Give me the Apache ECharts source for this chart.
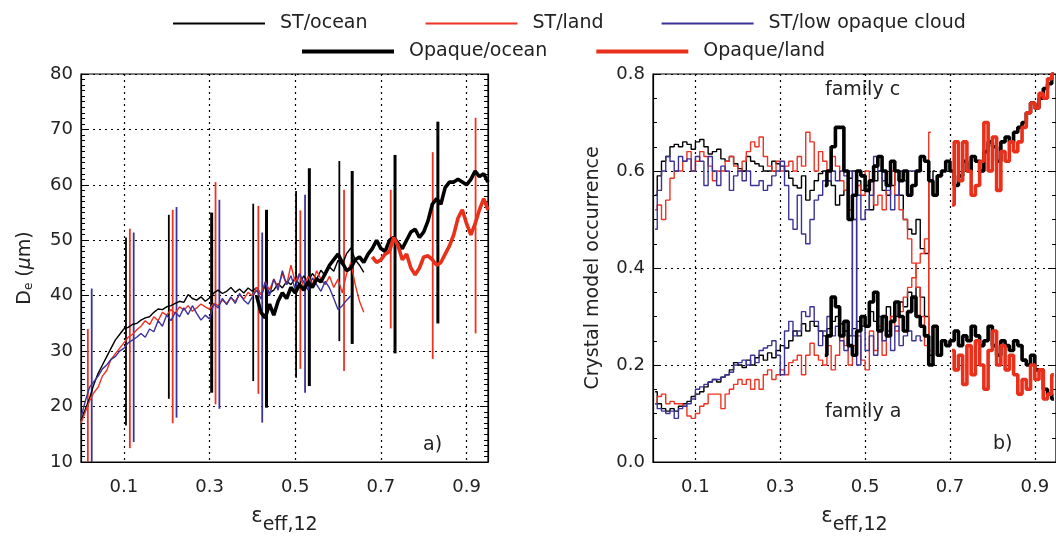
<!DOCTYPE html>
<html>
<head>
<meta charset="utf-8">
<script src="https://cdn.jsdelivr.net/npm/echarts@6/dist/echarts.min.js"></script>
<style>html,body{margin:0;padding:0;background:#fff}#c{width:1056px;height:540px}</style>
</head>
<body>
<div id="c"></div>
<script>
// ---------- tick labels ----------
const xTickValues = [0.1, 0.3, 0.5, 0.7, 0.9];
const seriesNames = ['ST/ocean', 'ST/land', 'ST/low opaque cloud', 'Opaque/ocean', 'Opaque/land'];

// ---------- panel a: De (um) vs emissivity, samples every 0.01 ----------
const aStOceanStart = 0.00;
const aStOcean = [17.5,19.5,21.5,24,26,27.5,29,30.5,32,33,34,34.3,34.8,35,35.6,36,36.2,37,37.6,37.5,38,38.2,38.6,39,38.8,40.2,39.5,39.2,39.8,39,39.6,40.5,41,40.4,40.8,41.5,40.6,41.2,40.5,41.4,40.8,41.5,40.2,41.8,40.5,41,42.2,41.4,42.6,42,43.2,42,43.6,42.4,44,43,44.6,43.6,45.2,44.4,46.4,45.6,47.6,48.6,46.5,45.5,44.2];
const aStLandStart = 0.00;
const aStLand = [17,19,21,22.5,23.5,25.5,26.5,28.5,29.5,30.5,31.5,32.5,33,33.8,34.5,35.5,34.8,36.2,35.5,37,36.5,37.5,36.8,38,37.4,38.2,37.2,37.8,38.5,38,37.6,38.6,38.2,39.2,38.6,39.6,39,40.2,39.4,40.6,40,41.5,40.2,42.5,41,43,41.5,44,42,45.5,42.5,44,41.5,43.5,42,44.5,43,42,43.5,41.5,43,40.5,44,46,42,39,37];
const aStLowStart = 0.00;
const aStLow = [18,21,23.5,24.5,25.5,26.8,27.5,28.5,29,30,30.5,31.5,32,32.5,33.2,32.5,34,33.5,35.5,34.5,36.5,35.5,37,36.2,37.8,36.6,38.2,36.8,35.6,36.5,35.8,38.5,37.8,39.5,38.4,39.8,38.6,40.4,39.2,38.5,39.8,41,39.4,42.5,40,43,41,44.5,42,43.6,41.2,44,42.4,41,43.2,42,40.8,42.6,41.4,39.5,37.5,38.2,39.2,40];
const aOpOceanStart = 0.41;
const aOpOcean = [40,37,36,38.5,36.5,39,40.5,39.5,41.5,40.5,42,41,42.5,41.5,43,42.5,44,45.5,46.5,47.5,46,44.5,45,46.5,47,46,47.5,48.5,50,48.5,48,50,50.5,49.5,48.5,50,51.5,52,50.5,51.5,53.5,56.5,57.5,56.5,59.5,60.5,60.5,61,60.5,60,61,62.5,61.5,62,60.5];
const aOpLandStart = 0.68;
const aOpLand = [47,46,46.5,47.5,48,50.5,49,46.5,47.5,45,43.8,45,47,47.2,46.5,45.5,46,47.5,49,51,54,55.5,53,51,53,55.5,57.5,55.5];

// error bars (x, low, high)
const errStOceanX  = [0.105,0.205,0.402,0.502,0.603];
const errStOceanLo = [16.6,21.4,24.6,25.2,31.8];
const errStOceanHi = [50.5,54.6,56.6,58.9,64.3];
const errStLandX   = [0.016,0.114,0.214,0.314,0.414,0.512,0.614,0.723,0.821,0.921];
const errStLandLo  = [10,12.5,17,20.4,22.3,26.8,26.4,34.1,28.6,33.2];
const errStLandHi  = [34,52.1,55.5,60.5,56.2,55.4,59.1,59.1,65.9,72.1];
const errStLowX    = [0.025,0.123,0.223,0.323,0.423,0.523];
const errStLowLo   = [10,13.6,18,19.6,17.1,22.5];
const errStLowHi   = [41.3,51.4,56,57.3,51.4,58.2];
const errOpOceanX  = [0.305,0.433,0.533,0.633,0.733,0.833];
const errOpOceanLo = [22.5,19.8,23.7,31.3,29.6,35];
const errOpOceanHi = [55,55.5,63,62.5,65.4,71.4];

// ---------- panel b: crystal model occurrence, bins of 0.01 (first bin index) ----------
const bStOceanBin0 = 0;
const bStOceanC = [0.55,0.59,0.62,0.63,0.65,0.655,0.65,0.66,0.655,0.645,0.66,0.665,0.65,0.635,0.64,0.645,0.625,0.62,0.63,0.615,0.605,0.6,0.63,0.62,0.615,0.61,0.6,0.6,0.62,0.615,0.61,0.6,0.585,0.57,0.565,0.59,0.54,0.56,0.58,0.595,0.6,0.58,0.57,0.53,0.55,0.56,0.585,0.6,0.58,0.56,0.57,0.52,0.58,0.6,0.56,0.55,0.57,0.6,0.55,0.5,0.48,0.47,0.5,0.44,0.43,0.58,0.6];
const bStOceanA = [0.145,0.12,0.11,0.105,0.11,0.105,0.115,0.12,0.125,0.135,0.14,0.145,0.155,0.165,0.17,0.165,0.175,0.18,0.19,0.205,0.2,0.195,0.21,0.2,0.215,0.22,0.21,0.225,0.215,0.23,0.24,0.235,0.25,0.27,0.26,0.285,0.27,0.29,0.28,0.27,0.26,0.275,0.29,0.3,0.285,0.27,0.26,0.275,0.29,0.3,0.28,0.31,0.29,0.27,0.3,0.32,0.29,0.3,0.33,0.32,0.35,0.34,0.36,0.34,0.3,0.22,0.2];
const bStLandBin0 = 0;
const bStLandC = [0.52,0.53,0.5,0.54,0.585,0.6,0.6,0.62,0.64,0.6,0.62,0.64,0.63,0.61,0.58,0.6,0.6,0.62,0.63,0.61,0.6,0.62,0.64,0.66,0.65,0.67,0.63,0.61,0.6,0.62,0.6,0.61,0.62,0.6,0.63,0.61,0.68,0.66,0.6,0.64,0.62,0.6,0.63,0.61,0.58,0.56,0.52,0.5,0.57,0.55,0.6,0.58,0.53,0.55,0.52,0.57,0.6,0.55,0.52,0.5,0.46,0.41,0.36,0.3,0.24,0.68];
const bStLandA = [0.12,0.135,0.14,0.12,0.125,0.12,0.12,0.115,0.095,0.09,0.1,0.115,0.12,0.14,0.14,0.14,0.11,0.14,0.15,0.16,0.17,0.16,0.17,0.15,0.17,0.15,0.18,0.19,0.17,0.18,0.19,0.18,0.205,0.21,0.22,0.18,0.22,0.245,0.22,0.21,0.2,0.24,0.19,0.22,0.26,0.24,0.2,0.24,0.26,0.21,0.19,0.27,0.23,0.28,0.22,0.26,0.3,0.27,0.31,0.34,0.36,0.38,0.41,0.43,0.46,0.23];
const bStLowBin0 = 0;
const bStLowC = [0.48,0.56,0.6,0.63,0.62,0.6,0.63,0.62,0.625,0.6,0.63,0.62,0.57,0.63,0.6,0.57,0.61,0.6,0.56,0.59,0.6,0.58,0.6,0.57,0.57,0.58,0.56,0.57,0.59,0.6,0.62,0.57,0.5,0.48,0.55,0.47,0.45,0.5,0.54,0.55,0.58,0.58,0.6,0.58,0.6,0.59,0.6,0.26,0.55,0.5,0.52,0.55,0.63,0.6,0.58,0.56,0.52,0.55,0.6,0.58,0.6,0.6,0.6,0.6];
const bStLowA = [0.12,0.11,0.105,0.1,0.105,0.09,0.11,0.115,0.12,0.13,0.15,0.155,0.16,0.165,0.17,0.17,0.175,0.18,0.185,0.2,0.205,0.21,0.2,0.22,0.205,0.23,0.235,0.24,0.25,0.22,0.18,0.27,0.29,0.26,0.27,0.31,0.3,0.32,0.29,0.24,0.27,0.3,0.26,0.28,0.25,0.23,0.24,0.5,0.2,0.28,0.23,0.26,0.22,0.3,0.25,0.27,0.23,0.28,0.24,0.26,0.27,0.25,0.26,0.25];
const bOpOceanBin0 = 40;
const bOpOceanC = [0.57,0.6,0.65,0.69,0.69,0.6,0.5,0.55,0.6,0.59,0.56,0.58,0.61,0.63,0.6,0.57,0.62,0.6,0.58,0.6,0.55,0.57,0.6,0.63,0.62,0.58,0.55,0.59,0.6,0.62,0.6,0.57,0.59,0.62,0.6,0.63,0.62,0.6,0.64,0.66,0.65,0.62,0.66,0.67,0.66,0.68,0.69,0.7,0.72,0.74,0.73,0.75,0.77,0.78,0.8];
const bOpOceanA = [0.22,0.26,0.34,0.32,0.26,0.29,0.24,0.22,0.27,0.3,0.28,0.33,0.35,0.27,0.3,0.26,0.29,0.33,0.3,0.27,0.31,0.34,0.3,0.28,0.26,0.2,0.28,0.22,0.25,0.24,0.25,0.27,0.24,0.26,0.25,0.28,0.26,0.24,0.25,0.28,0.24,0.22,0.25,0.24,0.23,0.25,0.24,0.21,0.2,0.22,0.19,0.19,0.15,0.14,0.13];
const bOpLandBin0 = 70;
const bOpLandC = [0.53,0.66,0.58,0.66,0.6,0.55,0.57,0.62,0.7,0.6,0.67,0.56,0.64,0.62,0.66,0.64,0.66,0.69,0.72,0.74,0.73,0.76,0.75,0.79,0.8];
const bOpLandA = [0.23,0.19,0.22,0.16,0.24,0.18,0.25,0.2,0.15,0.23,0.27,0.2,0.24,0.19,0.22,0.18,0.14,0.17,0.15,0.2,0.17,0.19,0.13,0.14,0.18];

// ---------- styling ----------
const FONT = "'DejaVu Sans', sans-serif";
const TXT = '#222';
const BLACK = '#000000', RED = '#ee3322', BLUE = '#3b3399', RED2 = '#e8301a';
const colors = [BLACK, RED, BLUE, BLACK, RED2];
const widths = [1.4, 1.4, 1.4, 3.6, 3.6];

function pts(start, vals) { return vals.map((v, i) => [+(start + i * 0.01).toFixed(3), v]); }
function bins(bin0, vals) { return vals.map((v, i) => [+((bin0 + i) * 0.01 + 0.005).toFixed(4), v]); }

function lineS(k, data, g, step) {
  return {
    type: 'line', name: seriesNames[k], xAxisIndex: g, yAxisIndex: g * 2, data,
    step: step || false, symbol: 'none', showSymbol: false, z: 3 + (k >= 3 ? 1 : 0),
    lineStyle: { color: colors[k], width: widths[k] }, itemStyle: { color: colors[k] },
    emphasis: { disabled: true }, clip: true
  };
}
function errS(k, xs, lo, hi) {
  return {
    type: 'custom', name: seriesNames[k] + ' error', xAxisIndex: 0, yAxisIndex: 0,
    data: xs.map((x, i) => [x, lo[i], hi[i]]), encode: { x: 0, y: [1, 2] }, silent: true, z: 2, clip: true,
    renderItem(params, api) {
      const p1 = api.coord([api.value(0), api.value(1)]);
      const p2 = api.coord([api.value(0), api.value(2)]);
      return { type: 'line', shape: { x1: p1[0], y1: p1[1], x2: p2[0], y2: p2[1] },
        style: { stroke: colors[k], lineWidth: k >= 3 ? 3 : 1.8 } };
    }
  };
}

const dotted = { color: '#000', width: 1.2, type: [2, 4] };

function xAx(g) {
  return {
    type: 'value', gridIndex: g, min: 0, max: 0.95,
    axisLine: { show: true, onZero: false, lineStyle: { color: '#000', width: 1.2 } },
    axisTick: { show: false, customValues: xTickValues },
    axisLabel: { customValues: xTickValues, formatter: v => v.toFixed(1), color: TXT, fontFamily: FONT, fontSize: 18, margin: 16 },
    splitLine: { show: true, lineStyle: dotted },
    name: '{e|\u03b5}{s|eff,12}', nameLocation: 'middle', nameGap: 44,
    nameTextStyle: { color: TXT, fontFamily: FONT,
      rich: { e: { fontSize: 21, fontFamily: FONT, color: TXT, padding: [0, 0, 10, 0] },
              s: { fontSize: 19, fontFamily: FONT, color: TXT, padding: [8, 0, 0, 0] } } }
  };
}
function yAx(g, min, max, interval, minorSplit, mirror, fmt, name, nameGap, nameRich) {
  const a = {
    type: 'value', gridIndex: g, min, max, interval, position: mirror ? 'right' : 'left',
    axisLine: { show: true, onZero: false, lineStyle: { color: '#000', width: 1.2 } },
    axisTick: { show: true, inside: true, length: 8, lineStyle: { color: '#000', width: 1 } },
    minorTick: { show: true, splitNumber: minorSplit, length: 4, lineStyle: { color: '#000', width: 1 } },
    axisLabel: { show: !mirror, formatter: fmt, color: TXT, fontFamily: FONT, fontSize: 18, margin: 8 },
    splitLine: { show: !mirror, lineStyle: dotted }
  };
  if (!mirror) {
    a.name = name; a.nameLocation = 'middle'; a.nameGap = nameGap; a.nameRotate = 90;
    a.nameTextStyle = { color: TXT, fontFamily: FONT, fontSize: 19, rich: nameRich };
  }
  return a;
}

const seriesList = [
  errS(0, errStOceanX, errStOceanLo, errStOceanHi),
  errS(1, errStLandX, errStLandLo, errStLandHi),
  errS(2, errStLowX, errStLowLo, errStLowHi),
  errS(3, errOpOceanX, errOpOceanLo, errOpOceanHi),
  lineS(0, pts(aStOceanStart, aStOcean), 0),
  lineS(1, pts(aStLandStart, aStLand), 0),
  lineS(2, pts(aStLowStart, aStLow), 0),
  lineS(3, pts(aOpOceanStart, aOpOcean), 0),
  lineS(4, pts(aOpLandStart, aOpLand), 0),
  lineS(0, bins(bStOceanBin0, bStOceanC), 1, 'middle'),
  lineS(0, bins(bStOceanBin0, bStOceanA), 1, 'middle'),
  lineS(1, bins(bStLandBin0, bStLandC), 1, 'middle'),
  lineS(1, bins(bStLandBin0, bStLandA), 1, 'middle'),
  lineS(2, bins(bStLowBin0, bStLowC), 1, 'middle'),
  lineS(2, bins(bStLowBin0, bStLowA), 1, 'middle'),
  lineS(3, bins(bOpOceanBin0, bOpOceanC), 1, 'middle'),
  lineS(3, bins(bOpOceanBin0, bOpOceanA), 1, 'middle'),
  lineS(4, bins(bOpLandBin0, bOpLandC), 1, 'middle'),
  lineS(4, bins(bOpLandBin0, bOpLandA), 1, 'middle')
];

const legendText = { color: TXT, fontFamily: FONT, fontSize: 19, padding: [0, 0, 0, 10] };
const option = {
  animation: false,
  backgroundColor: '#fff',
  legend: [
    { left: 168, top: 9, itemWidth: 92, itemHeight: 2, itemGap: 58, icon: 'rect', textStyle: legendText,
      selectedMode: false,
      data: [0, 1, 2].map(k => ({ name: seriesNames[k], itemStyle: { color: colors[k] } })) },
    { left: 297, top: 37, itemWidth: 92, itemHeight: 4, itemGap: 49, icon: 'rect', textStyle: legendText,
      selectedMode: false,
      data: [3, 4].map(k => ({ name: seriesNames[k], itemStyle: { color: colors[k] } })) }
  ],
  grid: [
    { left: 81, top: 74, width: 407, height: 393, show: true, borderColor: '#000', borderWidth: 1.2, containLabel: false },
    { left: 653, top: 74, width: 408, height: 394, show: true, borderColor: '#000', borderWidth: 1.2, containLabel: false }
  ],
  xAxis: [xAx(0), xAx(1)],
  yAxis: [
    yAx(0, 10, 80, 10, 10, false, v => String(v), '{d|D}{sub|e} ({mu|\u03bc}m)', 46,
      { d: { fontSize: 19, fontFamily: FONT, color: TXT },
        sub: { fontSize: 12, fontFamily: FONT, color: TXT, padding: [6, 0, 0, 0] },
        mu: { fontSize: 19, fontFamily: FONT, fontStyle: 'italic', color: TXT } }),
    yAx(0, 10, 80, 10, 10, true),
    yAx(1, 0, 0.8, 0.2, 4, false, v => v.toFixed(1), 'Crystal model occurrence', 50, {}),
    yAx(1, 0, 0.8, 0.2, 4, true)
  ],
  graphic: [
    { type: 'text', left: 423, top: 436, style: { text: 'a)', font: "19px 'DejaVu Sans'", fill: TXT } },
    { type: 'text', left: 993, top: 435, style: { text: 'b)', font: "19px 'DejaVu Sans'", fill: TXT } },
    { type: 'text', left: 825, top: 81, style: { text: 'family c', font: "19px 'DejaVu Sans'", fill: TXT } },
    { type: 'text', left: 825, top: 403, style: { text: 'family a', font: "19px 'DejaVu Sans'", fill: TXT } }
  ],
  series: seriesList
};

const chart = echarts.init(document.getElementById('c'), null, { renderer: 'canvas' });
chart.setOption(option);
</script>
</body>
</html>
